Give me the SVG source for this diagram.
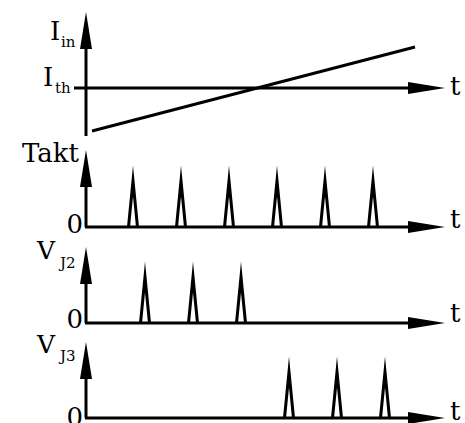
<svg xmlns="http://www.w3.org/2000/svg" width="465" height="423" viewBox="0 0 465 423">
<style>
.ax{stroke:#000;stroke-width:3;fill:none;marker-end:url(#ah)}
.ln{stroke:#000;stroke-width:3;fill:none}
.p{stroke:#000;stroke-width:3;fill:none;stroke-linejoin:miter;stroke-miterlimit:20}
text{font-family:"DejaVu Serif","Liberation Serif",serif;fill:#000}
.lb{font-size:26px}
.sb{font-size:15px}
.vl{font-size:25px}
.vs{font-size:15px}
</style>
<defs>
<marker id="ah" viewBox="0 0 37 12" refX="12" refY="6" markerWidth="37" markerHeight="12" markerUnits="userSpaceOnUse" orient="auto">
<path d="M0,0 L37,6 L0,12 z" fill="#000"/>
</marker>
</defs>
<g id="connectors">
<line class="ax" x1="86" y1="136" x2="86" y2="37"/>
<line class="ax" x1="74" y1="88" x2="420" y2="88"/>
<line class="ln" x1="92" y1="131" x2="415" y2="47"/>
<line class="ax" x1="86" y1="227" x2="86" y2="175"/>
<line class="ax" x1="85" y1="227" x2="420" y2="227"/>
<line class="ax" x1="86" y1="323" x2="86" y2="272"/>
<line class="ax" x1="85" y1="323" x2="420" y2="323"/>
<line class="ax" x1="86" y1="418" x2="86" y2="367"/>
<line class="ax" x1="85" y1="418" x2="420" y2="418"/>
</g>
<g id="takt-pulses">
<polyline class="p" points="128.5,227 133,181 137.5,227"/>
<polyline class="p" points="176.5,227 181,181 185.5,227"/>
<polyline class="p" points="224.5,227 229,181 233.5,227"/>
<polyline class="p" points="272.5,227 277,181 281.5,227"/>
<polyline class="p" points="320.5,227 325,181 329.5,227"/>
<polyline class="p" points="368.5,227 373,181 377.5,227"/>
</g>
<g id="vj2-pulses">
<polyline class="p" points="140.5,323 145,277 149.5,323"/>
<polyline class="p" points="188.5,323 193,277 197.5,323"/>
<polyline class="p" points="236.5,323 241,277 245.5,323"/>
</g>
<g id="vj3-pulses">
<polyline class="p" points="284.5,418 289,372 293.5,418"/>
<polyline class="p" points="332.5,418 337,372 341.5,418"/>
<polyline class="p" points="380.5,418 385,372 389.5,418"/>
</g>
<g id="labels">
<text class="lb" x="50" y="40">I</text><text class="sb" x="61" y="47">in</text>
<text class="lb" x="43" y="86">I</text><text class="sb" x="55" y="93">th</text>
<text class="lb" x="450" y="95">t</text>
<text class="lb" x="79" y="162" text-anchor="end">Takt</text>
<text class="lb" x="83" y="233" text-anchor="end">0</text>
<text class="lb" x="450" y="228">t</text>
<text class="vl" x="37" y="259">V</text><text class="vs" x="60" y="268">J2</text>
<text class="lb" x="83" y="328" text-anchor="end">0</text>
<text class="lb" x="450" y="322">t</text>
<text class="vl" x="37" y="353">V</text><text class="vs" x="60" y="361">J3</text>
<text class="lb" x="83" y="426" text-anchor="end">0</text>
<text class="lb" x="450" y="420">t</text>
</g>
</svg>
